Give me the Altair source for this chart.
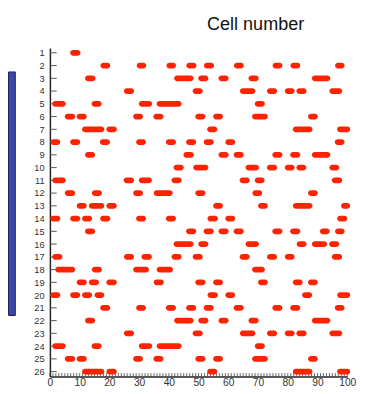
import altair as alt
import pandas as pd

# burst intervals (start, end) read per cell, x in 0-100 units
cell_01 = [(6.8, 10.3)]
cell_02 = [(17.0, 20.3), (29.2, 32.4), (39.2, 42.4), (45.9, 49.3), (51.8, 55.2), (61.9, 65.2), (74.9, 78.2), (80.9, 84.2), (95.9, 99.1)]
cell_03 = [(11.8, 15.3), (41.8, 48.3), (49.9, 53.3), (56.7, 60.1), (66.8, 70.2), (88.1, 94.3)]
cell_04 = [(24.9, 28.3), (48.0, 51.4), (63.9, 69.1), (73.0, 76.4), (79.0, 82.3), (82.9, 86.3), (94.0, 98.3)]
cell_05 = [(0.8, 5.3), (14.0, 17.4), (29.9, 34.4), (35.9, 44.3), (68.9, 72.3)]
cell_06 = [(5.0, 8.5), (9.0, 12.4), (28.0, 31.3), (34.8, 38.2), (48.9, 52.3), (54.9, 58.2), (68.0, 73.3), (86.8, 90.1)]
cell_07 = [(10.8, 18.3), (19.0, 22.5), (52.9, 56.3), (81.7, 88.3), (96.6, 101.0)]
cell_08 = [(0.2, 3.5), (6.8, 10.2), (16.8, 20.2), (29.0, 32.3), (39.0, 42.4), (45.8, 49.2), (51.7, 55.1), (59.0, 62.3), (95.8, 99.1)]
cell_09 = [(11.8, 15.2), (44.9, 48.4), (56.7, 60.1), (61.8, 65.2), (74.8, 78.2), (80.8, 84.2), (88.1, 94.3)]
cell_10 = [(41.6, 45.0), (48.2, 53.3), (65.8, 70.3), (73.0, 76.4), (79.0, 82.3), (82.9, 86.2), (94.0, 97.3)]
cell_11 = [(0.8, 5.3), (24.8, 28.3), (29.9, 34.3), (40.9, 44.3), (63.8, 67.2), (68.9, 72.2), (94.8, 98.3)]
cell_12 = [(5.0, 8.5), (14.1, 17.5), (28.0, 31.3), (34.9, 41.3), (48.9, 52.3), (68.1, 71.4), (86.8, 90.1)]
cell_13 = [(9.0, 12.4), (13.1, 18.3), (19.0, 22.5), (54.9, 58.2), (70.0, 73.3), (81.7, 88.3), (97.9, 101.0)]
cell_14 = [(0.1, 3.5), (6.8, 10.2), (10.8, 14.2), (16.9, 20.3), (29.0, 32.3), (39.0, 42.4), (53.0, 56.5), (59.0, 62.3), (96.6, 100.0)]
cell_15 = [(11.8, 15.2), (45.8, 49.2), (51.7, 55.1), (56.7, 60.1), (61.8, 65.2), (74.8, 78.2), (80.8, 84.2), (90.8, 94.1), (95.9, 99.1)]
cell_16 = [(41.6, 48.3), (49.9, 53.3), (65.8, 70.3), (83.0, 86.3), (88.1, 93.2), (93.9, 97.3)]
cell_17 = [(0.8, 4.2), (24.9, 28.3), (30.8, 34.3), (40.9, 44.3), (48.0, 51.4), (63.8, 67.2), (73.0, 76.4), (79.0, 82.3), (94.8, 98.3)]
cell_18 = [(1.8, 8.5), (14.1, 17.5), (28.0, 33.3), (35.9, 41.4), (68.0, 72.3)]
cell_19 = [(9.0, 12.4), (13.1, 16.5), (19.0, 22.5), (34.9, 38.3), (48.9, 52.3), (54.9, 58.2), (70.0, 73.3), (81.7, 85.0), (86.8, 90.1)]
cell_20 = [(0.1, 3.5), (6.8, 10.2), (10.8, 14.2), (15.0, 18.3), (53.0, 56.5), (59.0, 62.3), (84.8, 88.2), (96.6, 101.0)]
cell_21 = [(16.9, 20.3), (29.0, 32.3), (39.0, 42.4), (45.8, 49.2), (51.7, 55.1), (61.8, 65.2), (74.8, 78.2), (80.8, 84.2), (95.8, 99.1)]
cell_22 = [(11.8, 15.2), (41.8, 48.3), (49.9, 53.3), (56.7, 60.1), (66.8, 70.2), (88.1, 94.3)]
cell_23 = [(24.9, 28.3), (48.0, 51.4), (63.9, 69.1), (73.0, 76.4), (79.0, 82.3), (82.9, 86.3), (94.0, 98.3)]
cell_24 = [(0.8, 5.3), (14.0, 17.4), (29.9, 34.4), (35.9, 44.3), (68.9, 72.3)]
cell_25 = [(5.0, 8.5), (9.0, 12.4), (28.0, 31.3), (34.8, 38.2), (48.9, 52.3), (54.9, 58.2), (68.0, 73.3), (86.8, 90.1)]
cell_26 = [(10.8, 18.3), (19.0, 22.5), (52.9, 56.3), (81.7, 88.3), (96.6, 101.0)]

all_cells = [cell_01, cell_02, cell_03, cell_04, cell_05, cell_06, cell_07, cell_08, cell_09,
             cell_10, cell_11, cell_12, cell_13, cell_14, cell_15, cell_16, cell_17, cell_18,
             cell_19, cell_20, cell_21, cell_22, cell_23, cell_24, cell_25, cell_26]

cell_numbers = list(range(1, 27))
x_tick_values = list(range(0, 101))
x_label_values = list(range(0, 101, 10))
bracket_rows = [2.5, 21.6]

rows = []
for n, bursts in zip(cell_numbers, all_cells):
    for s, e in bursts:
        rows.append({"cell": n, "start": s, "end": e})
df = pd.DataFrame(rows)

W, H = 305, 337
yscale = alt.Scale(domain=[1, 26], reverse=True, nice=False, zero=False)
xscale = alt.Scale(domain=[0, 100], nice=False, zero=False)

x_axis = alt.Axis(values=x_label_values, ticks=False, grid=False, title=None,
                  domainColor="#222222", domainWidth=1.5, labelFontSize=10.5,
                  labelColor="#333333", labelFont="Liberation Sans", labelPadding=1,
                  labelFlush=False)
y_axis = alt.Axis(values=cell_numbers, ticks=False, grid=False, title=None,
                  domainColor="#222222", domainWidth=1.5, labelFontSize=9.5,
                  labelColor="#333333", labelFont="Liberation Sans", labelPadding=6,
                  labelFlush=False)

xtick_df = pd.DataFrame({"v": x_tick_values})
xticks = alt.Chart(xtick_df).mark_rule(color="#444444", strokeWidth=0.8).encode(
    x=alt.X("v:Q", scale=xscale, axis=x_axis),
    y=alt.value(H - 3.5), y2=alt.value(H),
)

ytick_df = pd.DataFrame({"cell": cell_numbers})
yticks = alt.Chart(ytick_df).mark_rule(color="#555555", strokeWidth=1).encode(
    y=alt.Y("cell:Q", scale=yscale, axis=y_axis),
    x=alt.value(0), x2=alt.value(7),
)

bars = alt.Chart(df).mark_bar(color="#ff2200", size=6, cornerRadius=3).encode(
    x=alt.X("start:Q", scale=xscale, axis=x_axis),
    x2="end:Q",
    y=alt.Y("cell:Q", scale=yscale, axis=y_axis),
)

bracket_df = pd.DataFrame({"top": [bracket_rows[0]], "bottom": [bracket_rows[1]]})
bracket = alt.Chart(bracket_df).mark_rect(color="#3c46a6", stroke="#1c1f5e", strokeWidth=1).encode(
    y=alt.Y("top:Q", scale=yscale, axis=y_axis),
    y2="bottom:Q",
    x=alt.value(-42.5), x2=alt.value(-35.5),
)

chart = alt.layer(xticks, yticks, bars, bracket).properties(
    width=W, height=H,
    title=alt.TitleParams("Cell number", font="Liberation Sans", fontSize=18.5,
                          fontWeight="normal", color="#111111", anchor="middle",
                          dx=58.5, offset=14.5),
    autosize=alt.AutoSizeParams(type="none"),
    padding={"left": 43, "top": 36, "right": 10, "bottom": 13},
).configure_view(stroke=None)

chart.save("out.html", embed_options={"renderer": "svg", "actions": False})
